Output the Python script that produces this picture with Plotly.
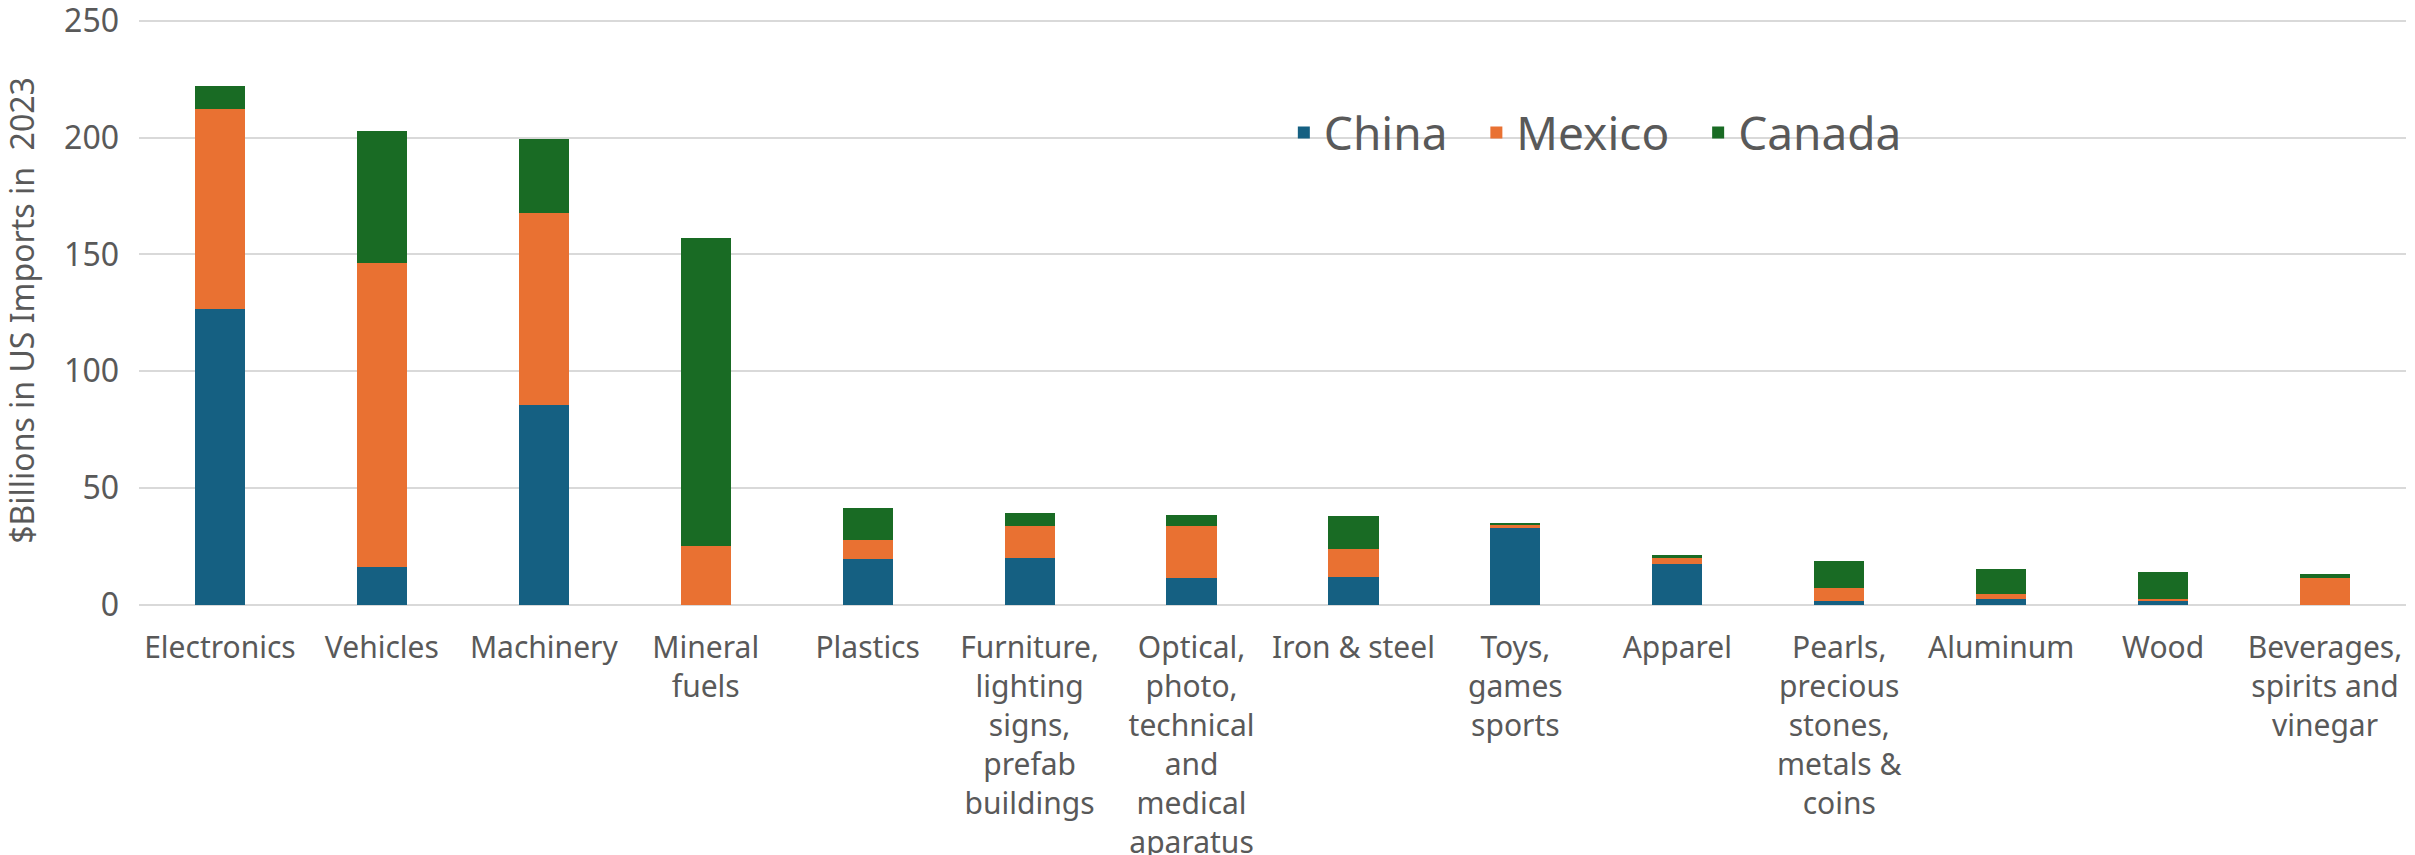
import plotly.graph_objects as go

categories = [
    "Electronics", "Vehicles", "Machinery", "Mineral<br>fuels", "Plastics",
    "Furniture,<br>lighting<br>signs,<br>prefab<br>buildings",
    "Optical,<br>photo,<br>technical<br>and<br>medical<br>aparatus",
    "Iron & steel", "Toys,<br>games<br>sports", "Apparel",
    "Pearls,<br>precious<br>stones,<br>metals &<br>coins",
    "Aluminum", "Wood", "Beverages,<br>spirits and<br>vinegar",
]
china = [126.5, 16.1, 85.7, 0.0, 19.8, 20.1, 11.7, 12.1, 32.9, 17.7, 1.6, 2.6, 1.9, 0.0]
mexico = [85.9, 130.3, 81.9, 25.4, 8.2, 13.5, 22.1, 11.7, 1.4, 2.8, 5.6, 2.1, 0.7, 11.7]
canada = [9.8, 56.2, 31.7, 131.7, 13.5, 5.6, 4.9, 14.2, 0.7, 0.7, 11.5, 10.9, 11.6, 1.4]

y_ticks = [0, 50, 100, 150, 200, 250]

series = [("China\u00a0\u00a0", china, "#156082"), ("Mexico\u00a0\u00a0", mexico, "#E97132"), ("Canada", canada, "#196B24")]

fig = go.Figure()
for name, vals, col in series:
    fig.add_trace(go.Bar(name=name, x=categories, y=vals, marker=dict(color=col, line=dict(width=0))))

font_family = "Noto Sans"
grey = "#595959"

fig.update_layout(
    barmode="stack",
    bargap=0.69,
    width=2415, height=855,
    margin=dict(l=139, r=9, t=16, b=250),
    paper_bgcolor="white", plot_bgcolor="white",
    font=dict(family=font_family, size=30, color=grey),
    legend=dict(orientation="h", x=0.505, y=0.802, xanchor="left", yanchor="middle",
                font=dict(size=46, color=grey), bgcolor="rgba(0,0,0,0)",
                traceorder="normal", itemwidth=30),
    showlegend=True,
)
fig.update_xaxes(showgrid=False, showline=False, ticks="", ticklabelstandoff=22, automargin=False,
                 tickfont=dict(size=30, color=grey))
fig.update_yaxes(range=[0, 252], tickvals=y_ticks, showgrid=True, gridcolor="#D9D9D9", gridwidth=1.5,
                 zeroline=True, zerolinecolor="#D9D9D9", zerolinewidth=1.5, automargin=False,
                 ticklabeloverflow="allow",
                 ticks="", ticklabelstandoff=19, tickfont=dict(size=32, color=grey),
                 title=dict(text="$Billions in US Imports in\u00a0 2023", font=dict(size=32, color=grey), standoff=20))

fig.write_html("out.html", config={"displayModeBar": False},
               post_script="document.body.style.margin='0px';")
